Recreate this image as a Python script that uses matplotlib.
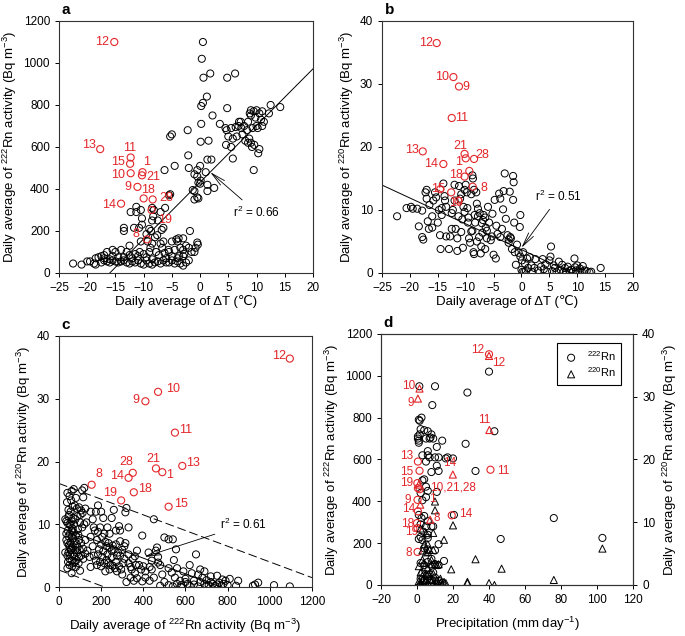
import numpy as np
import matplotlib.pyplot as plt

plt.rcParams['font.family'] = ['Liberation Sans', 'DejaVu Sans']
plt.rcParams['mathtext.fontset'] = 'custom'
plt.rcParams['mathtext.rm'] = 'Liberation Sans'
plt.rcParams['mathtext.it'] = 'Liberation Sans:italic'
plt.rcParams['axes.unicode_minus'] = True

RED = '#e3262a'

# ---------------- panel a : dT vs 222Rn ----------------
a_pts = [(0.5,1100),(0.3,1020),(0.6,930),(1.8,950),(6.2,950),(4.8,930),(1.2,840),(0.5,810),(0.2,795),
         (2.2,750),(4.8,785),(0.2,710),(-2.2,680),(-5.3,650),(-5,660),(1.5,630),(0.1,625),(2,540),(1.3,540),
         (-2.1,560),(-2,500),(-4.5,510),(0.0,510),(-0.5,490),(1,480),(-6.3,490),(-1,470),(-0.5,460),(0.1,440),
         (0,425),(-0.3,430),(1.3,420),(1.3,390),(2.5,405),(-1.3,395),(-1.0,390),(-1,350),(-0.5,360),(-0.3,355),
         (-5.5,370),(-5.3,375),
         (3.5,710),(4.5,690),(4.7,680),(5.5,690),(6.3,695),(6.8,700),(7.3,690),(7.8,700),(8.5,720),(8.8,760),
         (9.0,775),(9.5,770),(10.0,775),(10.5,760),(11,770),(12.2,760),(12.5,800),(14.2,790),(10.8,730),
         (11.3,720),(10.0,700),(9.3,690),(8.3,680),(7.5,660),(6.5,650),(5.8,640),(5.0,650),(4.6,610),(5.5,600),
         (8.7,640),(9.0,620),(9.2,600),(9.6,610),(8.5,620),(8.0,630),(10.3,570),(10.5,590),(9.5,490),(5.8,545),
         (9.8,740),(9.0,750),(7.2,720),(6.9,720),(11,700),(10.2,690),
         (-12.3,290),(-11.3,315),(-10.5,300),(-8.5,310),(-8.2,300),(-7,290),(-6.2,310),(-8.3,270),(-8.5,250),
         (-7.5,250),(-10.3,260),(-11.3,290),(-10.3,230),(-10.8,215),(-11.7,215),(-13.5,215),(-13.5,200),(-9,210),
         (-8.7,200),(-6.5,215),(-6.8,205),(-7.6,180),(-8,170),(-9.5,185),(-10.5,150),(-9.3,150),(-8.5,140),
         (-7,140),(-6.5,150),(-5,150),(-4.2,160),(-3.8,165),(-3,165),(-1.8,200),(-4,150),(-2.5,130),(-2,120),
         (-1.5,100),(-0.5,145),(-0.4,135),(-3,110),(-3.5,120),(-4.5,110),(-5.5,100),(-6.7,120),(-7.8,100),
         (-9,100),(-10,90),(-11,80),(-12,70),(-12.5,130),(-13,100),(-14,110),(-15,100),(-15.5,110),(-16.5,100),
         (-17,85),(-17.5,80),(-18,75),(-18.5,70),(-19.5,55),(-20,55),(-21,40),(-22.5,45),(-18.8,45),(-18.5,40),
         (-17.5,50),(-17,60),(-16.5,55),(-16,50),(-15.5,60),(-15,55),(-14.5,50),(-14,55),(-13.5,60),(-13,50),
         (-12.5,45),(-12,55),(-11.5,50),(-11,60),(-10.5,45),(-10,40),(-9.5,60),(-9,45),(-8.5,40),(-8,50),
         (-7.5,55),(-7,45),(-6.5,60),(-6,50),(-5.5,50),(-5,60),(-4.5,45),(-4,55),(-3.5,45),(-3,35),(-2.5,50),
         (-2,60),(-3,80),(-4,70),(-5,80),(-6,70),(-8.5,65),(-9.5,75),(-11.5,90),(-12.5,85),(-13.5,75),
         (-14.5,75),(-15.5,80),(-16,65),(-17,70),(-10.7,100),(-8.8,120),(-7.3,85),(-6.3,95),(-5.6,110),
         (-2.8,90),(-3.7,80),(-1,100),(-0.8,120)]
a_red_lab = ['12','13','11','15','10','1','21','9','18','28','14','19','8']
a_red_pts = [(-15.2,1100),(-17.7,590),(-12.3,550),(-12.4,520),(-12.3,475),(-10.2,480),(-10.3,465),
             (-11.1,410),(-10.0,355),(-8.4,350),(-14.0,330),(-8.6,300),(-9.4,160)]
a_red_off = [(-9,0),(-8,3),(-1,7),(-9,1),(-9,-1),(3,7),(8,-1),(-7,0),(3,6),(10,1),(-9,-1),(10,-7),(-8,4)]
a_fit = (27.0, 432.0)   # slope, intercept
a_fit_x = (-16, 20)

# ---------------- panel b : dT vs 220Rn ----------------
b_pts = [(-22.3,9.0),(-20.6,10.3),(-19.8,10.5),(-19.5,10.2),(-18.7,10.2),(-18.4,7.4),(-17.8,9.9),(-17.8,5.7),
         (-17.6,5.3),(-17.2,12.8),(-17,13.2),(-17,11.8),(-16.8,8.2),(-16.6,7.0),(-16.5,10.8),(-16,9.0),
         (-16,7.2),(-15.8,11.5),(-15.3,12),(-15,8),(-14.8,10),(-14.6,6.0),(-14.5,3.8),(-14.3,9.2),(-14,14.2),
         (-13.8,12.2),(-13.7,11.5),(-13.5,5.8),(-13.0,3.8),(-12.8,5.8),(-12.5,7.0),(-12.3,10),(-12,14),
         (-11.8,7),(-11.5,3.5),(-11.5,5.5),(-11.3,9.0),(-11,11.8),(-10.8,12.5),(-10.6,8.5),(-10.5,4.0),
         (-10.4,10.5),(-10.2,13.2),(-10,14),(-9.8,12.8),(-9.7,10.3),(-9.5,8.8),(-9.4,5.5),(-9.2,4.8),(-9,6.6),
         (-8.8,15.5),(-8.7,15),(-8.6,3.3),(-8.5,3.0),(-8.4,9.2),(-8.3,8),(-8.1,12.8),(-8,11),(-7.8,10.2),
         (-7.6,5.7),(-7.5,9.5),(-7.3,3.1),(-7.1,7.9),(-7,6.4),(-6.8,9.2),(-6.5,3.8),(-6.4,7.2),(-6.2,6.7),
         (-6,10.5),(-5.8,8.0),(-5.5,5.2),(-5.3,5.8),(-5.2,9.4),(-5,2.9),(-4.8,11.6),(-4.6,2.3),(-4.3,6.2),
         (-4,12.6),(-3.8,11.8),(-3.5,7.0),(-3.3,10.1),(-3.2,13.0),(-3,15.8),(-2.8,8.6),(-2.5,6.0),(-2.3,5.3),
         (-2.1,12.9),(-2,5.7),(-1.9,5.5),(-1.5,11.6),(-1.5,15.4),(-1.4,14.4),(-1.3,8),(-1.2,3.3),(-1,1.3),
         (-0.8,4.5),(-0.5,3.2),(-0.3,7.3),(-0.2,9.2),(-0.2,2.6),(0,0.5),(0.1,2.0),(0.2,0.2),(0.3,3.3),(0.5,0.2),
         (0.6,1.5),(0.8,0.3),(1,2.3),(1.2,0.8),(1.5,2.5),(1.8,1.2),(2,0.1),(2.3,0.8),(2.5,2.2),(3,0.4),
         (3.5,1.0),(3.8,2.2),(4,0.6),(4.3,1.4),(4.6,0.2),(5,2.0),(5.3,4.2),(5.2,2.6),(5.5,0.3),(5.8,1.2),
         (6,0.8),(6.3,0.1),(6.7,1.8),(7,0.5),(7.3,1.3),(7.5,0.1),(7.8,0.8),(8,0.2),(8.3,1.0),(8.6,0.3),
         (8.9,0.5),(9.2,0.1),(9.5,2.3),(9.6,0.9),(9.8,0.4),(10,1.2),(10.2,0.1),(10.5,0.7),(10.8,0.2),(11,1.1),
         (11.3,0.4),(11.7,0.3),(12.2,0.1),(12.5,0.2),(14.2,0.8),(-12.5,9.5),(-13.5,10.5),(-15.5,12.8),
         (-9,12.5),(-8.5,13.2),(-7.8,9.0),(-6.9,8.4),(-11.2,13.8),(-10.8,6.5),(-6.2,5.5),(-3.8,5.7),(-4.5,7.5),
         (-2.3,4.8),(-1.7,3.8),(-6.5,8.8),(-10.2,9.7),(-9.6,8.0),(-8.8,6.7),(-8,5.0),(-7.2,4.2),(-12,11.5),
         (-14.3,10.3)]
b_red_lab = ['12','10','9','11','13','21','1','28','14','18','','8','15','','19']
b_red_pts = [(-15.2,36.5),(-12.2,31.1),(-11.2,29.6),(-12.5,24.6),(-17.7,19.3),(-10.2,18.9),(-10.0,18.2),
             (-8.5,18.1),(-14.0,17.3),(-10.2,15.3),(-9.35,16.2),(-8.74,13.7),(-14.55,13.3),(-12.6,12.8),
             (-11.3,11.5)]
b_red_off = [(-8,0),(-8,0),(5,0),(7,0),(-8,1),(-3,6),(-5,-3),(6,3),(-9,0),(-6,1),(0,0),(8,-1),(-2,0),(0,0),
             (-2,-2)]
b_fit = (-0.41, 3.7)
b_fit_x = (-25, 9)

# ---------------- panel c : 222Rn vs 220Rn ----------------
c_pts = [(40,15),(50,14.5),(60,15.3),(70,15.6),(80,14.2),(110,15.4),(120,15.8),(115,14.3),(45,12.3),
         (55,12),(65,12.8),(75,13),(85,12.5),(95,12.7),(105,12.2),(125,12.5),(130,10.3),(35,10.5),(40,10.2),
         (45,11.2),(50,10),(55,9.8),(60,10.5),(65,9.3),(70,8.7),(80,8.2),(90,9.2),(100,10.3),(110,9.5),
         (120,10.0),(35,7.5),(40,7.0),(45,8.1),(50,6.3),(55,7.1),(60,8.0),(65,6.5),(75,7.3),(85,6.8),(95,7.5),
         (105,7.0),(115,6.1),(125,7.5),(135,5.8),(30,5.5),(40,5.0),(45,5.5),(50,4.5),(55,5.9),(60,4.2),
         (65,5.2),(75,4.0),(85,5.5),(95,4.8),(105,5.0),(115,4.5),(125,5.3),(40,3.0),(50,3.5),(60,2.2),(70,3.8),
         (80,3.2),(100,2.6),(150,3.2),(145,4.8),(38,13.5),(48,11.5),(58,13.8),(68,11.0),(78,10.8),(88,11.3),
         (42,9.0),(52,8.5),(62,9.0),(72,10.0),(92,8.3),(102,11.5),(112,11.8),(48,6.7),(58,6.0),(68,7.8),
         (78,5.9),(88,6.3),(98,5.9),(43,4.0),(53,5.2),(63,3.3),(73,4.9),(83,4.3),(93,3.8),(35,8.5),(30,10.8),
         (150,12.0),(160,10.8),(175,12.0),(185,13.0),(200,12.0),(210,11.0),(215,8.5),(195,9.5),(170,9.0),
         (150,8.0),(160,6.5),(180,7.5),(200,6.8),(220,7.2),(240,6.3),(260,6.0),(280,5.5),(300,5.9),(310,6.5),
         (230,5.2),(250,4.7),(270,4.0),(290,5.0),(205,4.8),(225,4.3),(245,3.5),(265,3.0),(285,3.3),(305,3.8),
         (180,3.5),(200,3.3),(220,2.5),(240,2.8),(190,6.0),(210,5.7),(250,5.8),(270,6.8),(290,7.3),(315,7.0),
         (320,0.8),(260,12.3),(285,9.7),(290,9.0),(315,11.9),(320,12.6),(330,9.5),(250,11.0),(230,9.5),
         (270,9.0),(240,8.5),(300,2.0),(310,4.5),(330,3.8),(350,4.5),(360,4.9),(345,2.8),(360,2.2),(370,5.8),
         (395,8.2),(380,3.5),(390,2.8),(400,3.3),(410,2.5),(430,3.2),(440,2.8),(450,10.8),(460,5.8),(465,6.3),
         (470,3.9),(480,3.5),(490,2.0),(500,7.9),(520,7.6),(540,7.6),(545,4.3),(555,6.0),(520,3.0),(535,2.3),
         (550,1.5),(560,3.0),(575,1.0),(590,2.5),(600,1.3),(610,0.5),(620,3.5),(640,1.0),(650,5.2),(660,2.0),
         (670,0.8),(680,1.5),(690,0.5),(700,1.1),(710,0.3),(720,0.8),(730,0.5),(740,0.2),(750,0.4),(760,0.7),
         (770,0.2),(780,0.5),(790,1.0),(800,0.3),(810,1.3),(840,0.2),(850,1.0),(920,0.2),(930,0.4),(945,0.7),
         (1020,0.3),(1095,0.1),(480,0.2),(500,0.8),(520,0.3),(540,0.1),(560,0.5),(580,0.3),(600,0.8),
         (620,0.2),(640,0.4),(660,0.1),(700,0.2),(450,1.5),(430,1.0),(410,1.5),(395,0.9),(370,1.4),(340,1.5),
         (355,1.0),(580,0.0),(630,2.2),(670,2.8),(690,2.5),(720,1.7),(750,1.8),(775,1.2),(470,4.8),(440,4.2),
         (425,5.5),(165,5.0),(175,4.2),(195,4.0),(215,3.8),(235,3.9),(255,3.4),(275,2.5),(295,2.8),(165,9.5),
         (185,8.8),(205,8.0),(225,6.5),(185,5.2),(235,7.0),(255,6.6),(275,5.0),(330,5.2),(340,3.2),(365,3.5)]
c_red_lab = ['12','10','9','11','21','1','13','28','14','8','19','18','15']
c_red_pts = [(1095,36.4),(470,31.1),(410,29.6),(550,24.6),(460,18.9),(490,18.3),(585,19.3),(350,18.2),
             (330,17.4),(155,16.3),(295,13.8),(355,15.1),(520,12.8)]
c_red_off = [(-8,2),(11,2),(-7,1),(8,2),(-2,7),(5,-2),(8,2),(-5,8),(-8,1),(5,8),(-8,5),(8,2),(9,2)]
c_fit = (-0.0125, 9.6)
c_fit_x = (0, 768)
c_band = 6.9

# ---------------- panel d : precipitation ----------------
d_circ = [(0.5,700),(1,690),(1.5,720),(1,680),(2,745),(2.5,800),(1.5,785),(4,740),(5,700),(6,735),(7,700),
          (8,720),(9,700),(11,660),(12,610),(14,690),(16,605),(17,610),(20,605),(3,620),(5,590),(6,640),
          (6,620),(7,610),(8,540),(10,610),(11,570),(12,545),(3,500),(4,505),(5,470),(6,450),(11,445),(2,440),
          (3,405),(5,420),(1,335),(2.5,320),(4,330),(6,305),(8,280),(2,290),(5,280),(2,230),(3.5,255),(6,240),
          (6,225),(9,280),(12,195),(4,175),(6,170),(10,165),(2,105),(4,95),(6,110),(8,125),(10,100),(12,95),
          (15,115),(5,75),(3,55),(7,50),(10,950),(8.5,860),(28,920),(40,1020),(43,735),(27,675),(32.5,545),
          (76,320),(46.5,220),(103,225),(20.5,335),(1.3,950),(1,220),(3,215),(2,30),(4,20),(6,40),(8,25),
          (10,35),(12,20),(14,10),(9,60),(1,790),(0.5,710),(7.5,705)]
d_tri = [(10,13.3),(10,11.9),(20,9.5),(15,7.2),(9,5.6),(6,5.3),(7,5.6),(5,5.2),(3,4.0),(4,3.5),(8,3.3),
         (10,3.3),(11,3.2),(12,3.3),(32.5,4.1),(47,2.6),(103,5.8),(19,2.5),(76,0.8),(28,0.3),(40,0.3),(43,0),
         (15,0.5),(13,1.0),(2,0.4),(1,0.1),(3,0.8),(4,0.2),(5,0.9),(6,0.3),(7,1.0),(8,0.5),(9,0.2),(11,0.7),
         (12,0.3),(14,0.1),(16,0.3),(2,2.0),(3,1.5),(5,1.8),(7,1.5),(9,1.8),(1,3.0),(6,2.8),(8,4.0),(3,5.5),
         (4,6.5),(2,9.0),(5,8.3),(6,6.5),(9,8.3),(1,0.6),(2.5,0.2),(4.5,0.5),(6.5,0.1),(8.5,0.8),(10.5,0.4),
         (28,0.5),(13,0.3)]
d_red_circ_lab = ['12','11','13','15','19','10,21,28','9','14','18','14','19','8','']
d_red_circ = [(40,1103),(40.8,551),(0.5,590),(1.4,546),(0.2,487),(1.5,458),(0.3,407),(0.5,352),(0,296),
              (19.3,333),(0.3,272),(0.3,158),(0.5,463)]
d_red_circ_off = [(-8,3),(9,-1),(-8,4),(-9,-1),(-8,0),(24,1),(-7,0),(-7,1.5),(-7,-0.5),(10,1),(-4,-3),
                  (-6,-1),(0,0)]
d_red_tri_lab = ['12','10','9','11','14','1','8','']
d_red_tri = [(40,36.5),(1.4,31.3),(0.5,29.7),(40.2,24.7),(19.9,17.6),(1.8,12.8),(7.3,10.4),(1.0,16.0)]
d_red_tri_off = [(7,-5),(-8,2),(-5,-3),(-4,7),(-2,8),(9,4),(5,1),(0,0)]


fig = plt.figure(figsize=(6.85, 6.36), dpi=100)
ax_a = fig.add_axes([0.0861, 0.5708, 0.3708, 0.3962])
ax_b = fig.add_axes([0.5577, 0.5708, 0.3664, 0.3962])
ax_c = fig.add_axes([0.0861, 0.0770, 0.3693, 0.3947])
ax_d = fig.add_axes([0.5562, 0.0802, 0.3679, 0.3947])

ms = 26
lab_fs = 9.5
tick_fs = 8.5


def black(ax, pts, marker='o'):
    p = np.array(pts, dtype=float)
    ax.scatter(p[:, 0], p[:, 1], s=ms, marker=marker, facecolors='none', edgecolors='black',
               linewidths=0.7, zorder=3)


def red(ax, pts, labels, offs, marker='o', fs=9):
    p = np.array(pts, dtype=float)
    ax.scatter(p[:, 0], p[:, 1], s=ms, marker=marker, facecolors='none', edgecolors=RED,
               linewidths=0.8, zorder=4)
    for (x, y), t, o in zip(pts, labels, offs):
        if t:
            ax.annotate(t, (x, y), xytext=o, textcoords='offset points', ha='center', va='center',
                        color=RED, fontsize=fs, zorder=5)


def style(ax):
    for s in ax.spines.values():
        s.set_color('#333333')
        s.set_linewidth(0.8)
    ax.tick_params(direction='out', length=3, width=0.7, labelsize=tick_fs)


ylab222 = 'Daily average of $^{222}$Rn activity (Bq m$^{-3}$)'
ylab220 = 'Daily average of $^{220}$Rn activity (Bq m$^{-3}$)'
xlab_dt = 'Daily average of \u0394T (\u2103)'

# a
black(ax_a, a_pts)
red(ax_a, a_red_pts, a_red_lab, a_red_off)
fx = np.array(a_fit_x, dtype=float)
ax_a.plot(fx, a_fit[0] * fx + a_fit[1], color='black', lw=0.7, zorder=2)
ax_a.annotate('r$^2$ = 0.66', xy=(1.8, 480), xytext=(5.8, 290), fontsize=8.5, va='center',
              arrowprops=dict(arrowstyle='->, head_length=1.2, head_width=0.25', lw=0.6, color='black',
                              shrinkA=2, shrinkB=0))
ax_a.set_xlim(-25, 20)
ax_a.set_ylim(0, 1200)
ax_a.set_xticks(np.arange(-25, 21, 5))
ax_a.set_yticks(np.arange(0, 1201, 200))
ax_a.set_xlabel(xlab_dt, fontsize=lab_fs, labelpad=1)
ax_a.set_ylabel(ylab222, fontsize=lab_fs, labelpad=3)
style(ax_a)

# b
black(ax_b, b_pts)
red(ax_b, b_red_pts, b_red_lab, b_red_off)
fx = np.array(b_fit_x, dtype=float)
ax_b.plot(fx, b_fit[0] * fx + b_fit[1], color='black', lw=0.7, zorder=2)
ax_b.annotate('r$^2$ = 0.51', xy=(0.0, 4.0), xytext=(2.5, 12.1), fontsize=8.5, va='center',
              arrowprops=dict(arrowstyle='->, head_length=1.2, head_width=0.25', lw=0.6, color='black',
                              shrinkA=2, shrinkB=0))
ax_b.set_xlim(-25, 20)
ax_b.set_ylim(0, 40)
ax_b.set_xticks(np.arange(-25, 21, 5))
ax_b.set_yticks(np.arange(0, 41, 10))
ax_b.set_xlabel(xlab_dt, fontsize=lab_fs, labelpad=1)
ax_b.set_ylabel(ylab220, fontsize=lab_fs, labelpad=3)
style(ax_b)

# c
black(ax_c, c_pts)
red(ax_c, c_red_pts, c_red_lab, c_red_off)
fx = np.array(c_fit_x, dtype=float)
ax_c.plot(fx, c_fit[0] * fx + c_fit[1], color='black', lw=0.7, zorder=2)
bx = np.array([0, 1200], dtype=float)
ax_c.plot(bx, c_fit[0] * bx + c_fit[1] + c_band, color='black', lw=0.7, dashes=(9, 4), zorder=2)
ax_c.plot(bx, c_fit[0] * bx + c_fit[1] - c_band, color='black', lw=0.7, dashes=(9, 4), zorder=2)
ax_c.annotate('r$^2$ = 0.61', xy=(405, 4.8), xytext=(765, 9.9), fontsize=8.5, va='center',
              arrowprops=dict(arrowstyle='->, head_length=1.2, head_width=0.25', lw=0.6, color='black',
                              shrinkA=2, shrinkB=0))
ax_c.set_xlim(0, 1200)
ax_c.set_ylim(0, 40)
ax_c.set_xticks(np.arange(0, 1201, 200))
ax_c.set_yticks(np.arange(0, 41, 10))
ax_c.set_xlabel(ylab222, fontsize=lab_fs, labelpad=6)
ax_c.set_ylabel(ylab220, fontsize=lab_fs, labelpad=3)
style(ax_c)

# d
ax_d2 = ax_d.twinx()
black(ax_d, d_circ)
red(ax_d, d_red_circ, d_red_circ_lab, d_red_circ_off, fs=8.5)
black(ax_d2, d_tri, marker='^')
red(ax_d2, d_red_tri, d_red_tri_lab, d_red_tri_off, marker='^', fs=8.5)
ax_d.set_xlim(-20, 120)
ax_d.set_ylim(0, 1200)
ax_d2.set_ylim(0, 40)
ax_d.set_xticks(np.arange(-20, 121, 20))
ax_d.set_yticks(np.arange(0, 1201, 200))
ax_d2.set_yticks(np.arange(0, 41, 10))
ax_d.set_xlabel('Precipitation (mm day$^{-1}$)', fontsize=lab_fs, labelpad=6)
ax_d.set_ylabel(ylab222, fontsize=lab_fs, labelpad=3)
ax_d2.set_ylabel(ylab220, fontsize=lab_fs, labelpad=4)
style(ax_d)
style(ax_d2)
h1 = ax_d.scatter([], [], s=ms, marker='o', facecolors='none', edgecolors='black', linewidths=0.7)
h2 = ax_d.scatter([], [], s=ms, marker='^', facecolors='none', edgecolors='black', linewidths=0.7)
leg = ax_d2.legend([h1, h2], ['$^{222}$Rn', '$^{220}$Rn'], loc='upper right', fontsize=8,
                   fancybox=False, edgecolor='black', framealpha=1, borderpad=0.5, handletextpad=0.6,
                   labelspacing=0.25, handlelength=1.6, bbox_to_anchor=(0.975, 0.985))
leg.get_frame().set_linewidth(0.8)

for ax, t in [(ax_a, 'a'), (ax_b, 'b'), (ax_c, 'c'), (ax_d, 'd')]:
    ax.text(0.01, 1.015, t, transform=ax.transAxes, fontsize=11, fontweight='bold', ha='left', va='bottom')

fig.savefig('out.png', dpi=100)
